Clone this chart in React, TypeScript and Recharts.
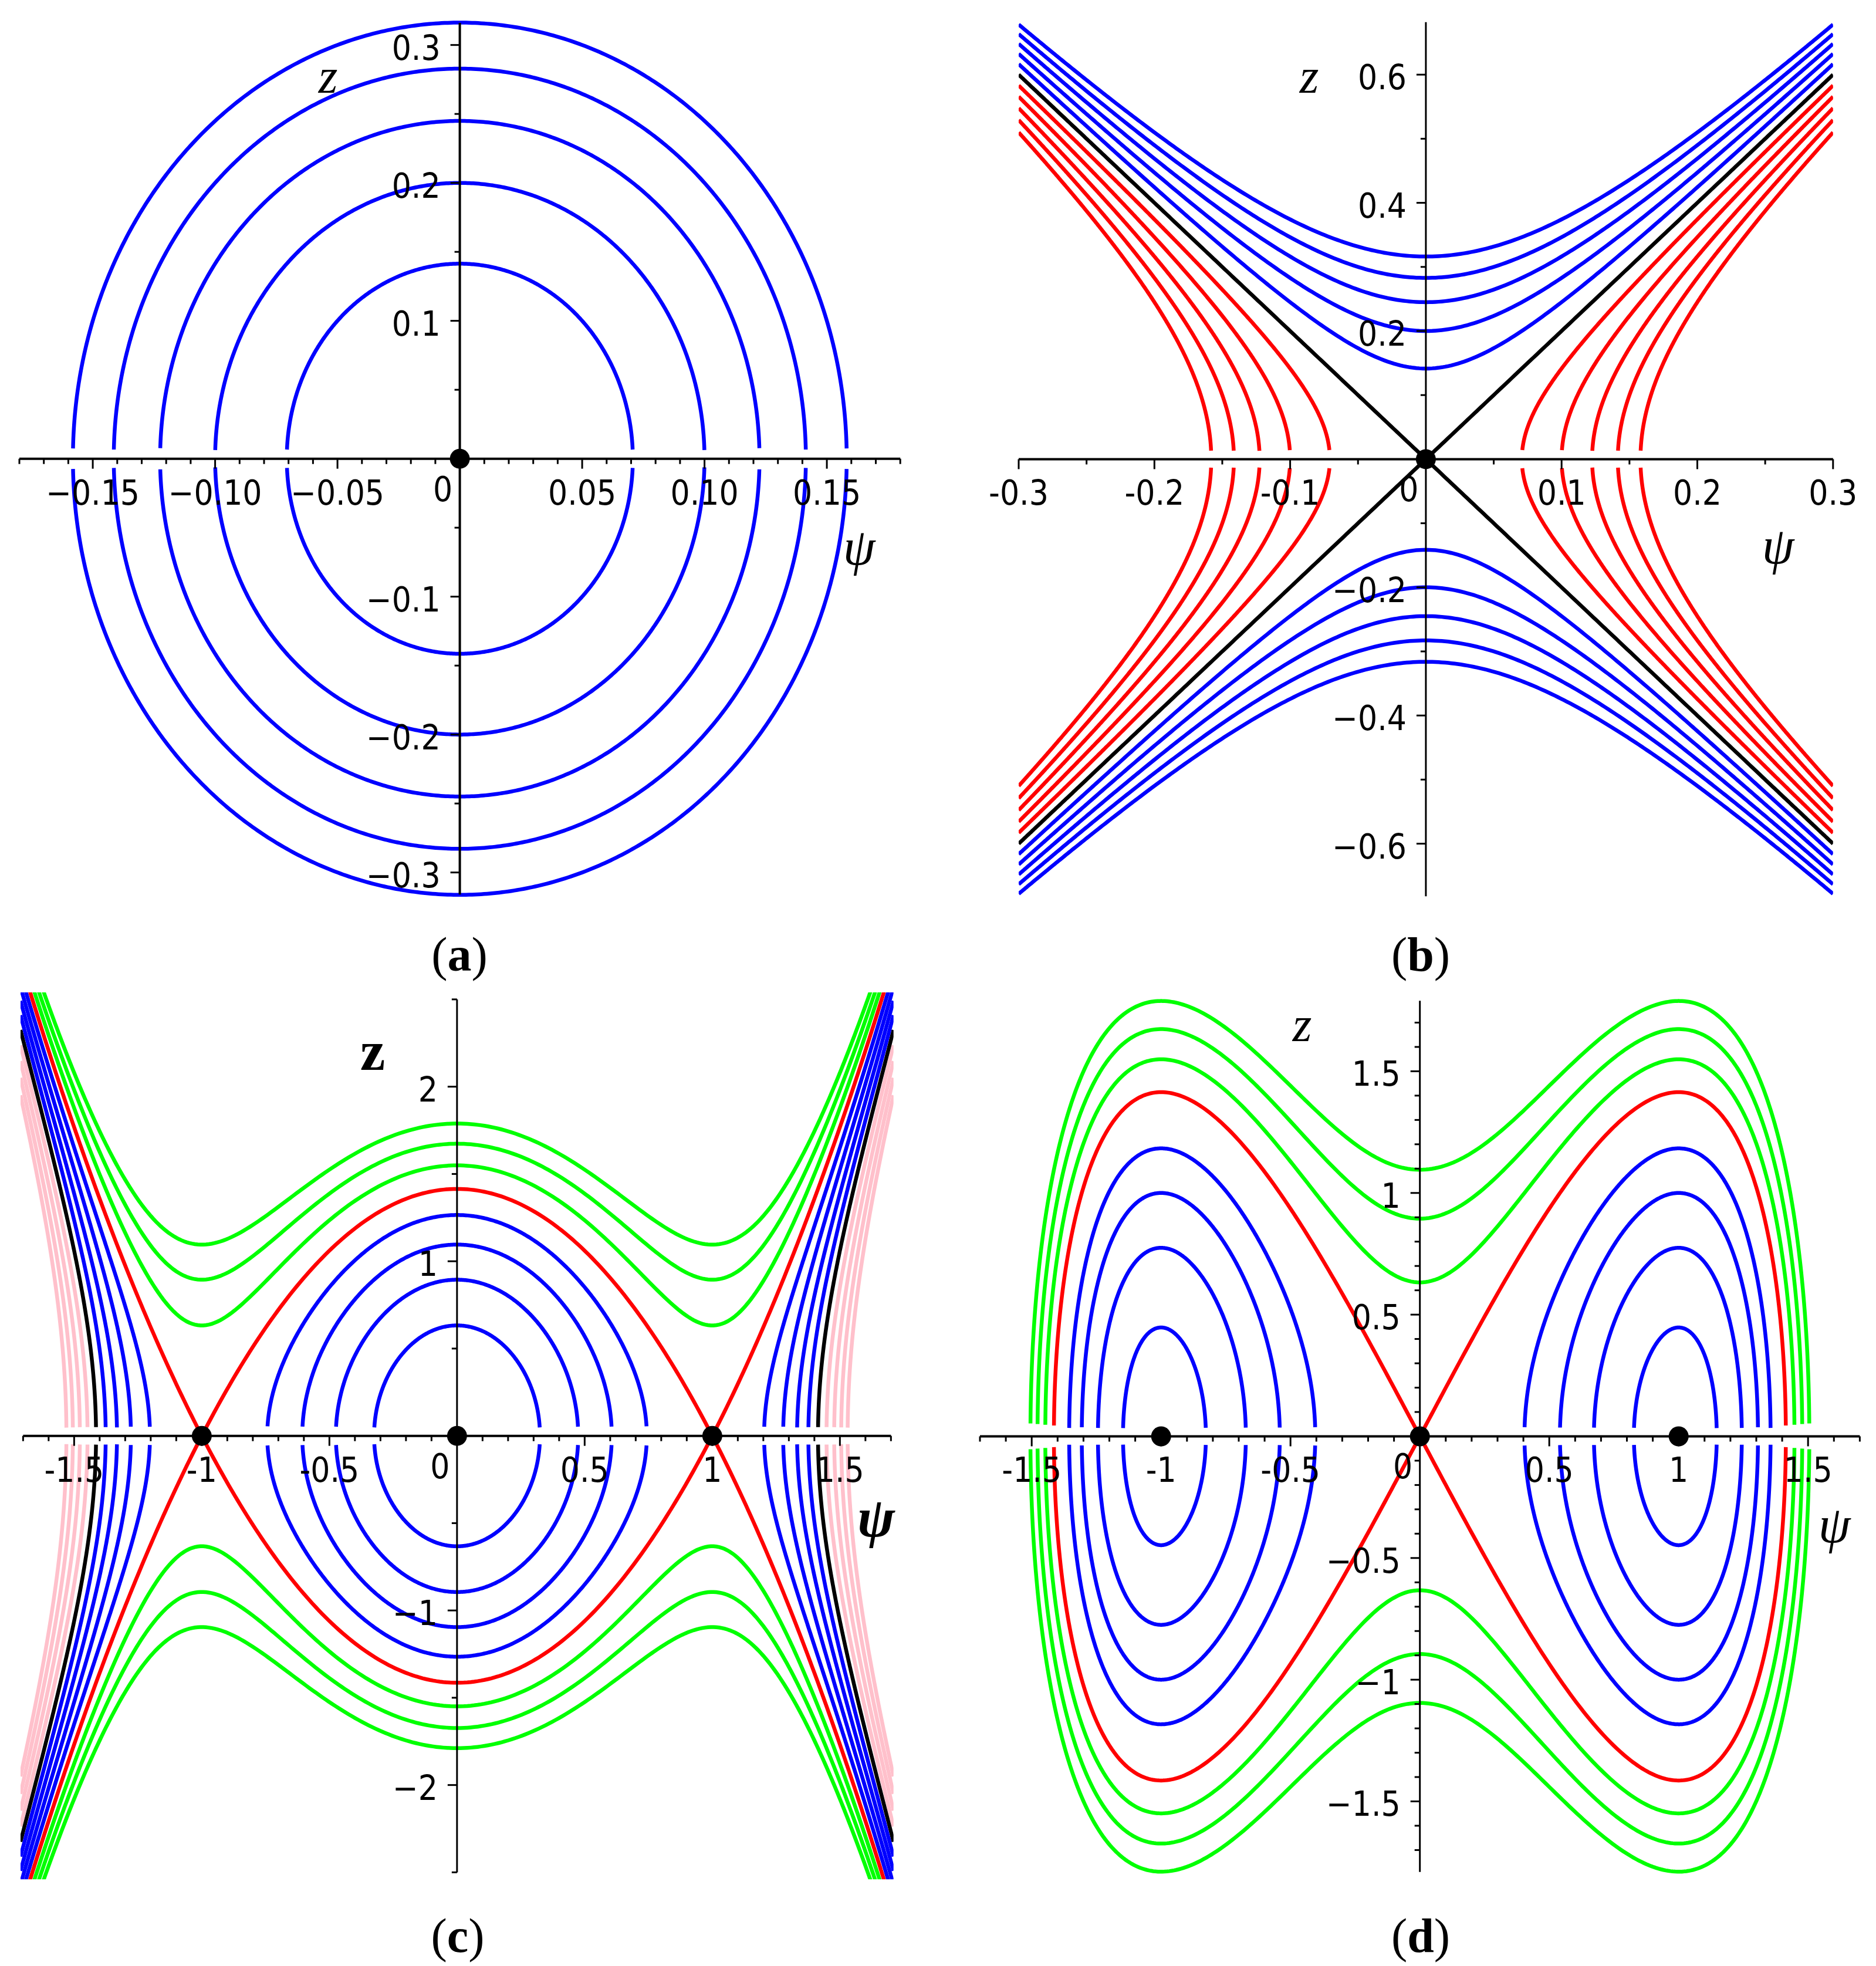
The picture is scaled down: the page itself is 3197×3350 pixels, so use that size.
import React, { useMemo } from "react";
import { LineChart, Line, XAxis, YAxis, ReferenceLine, ReferenceDot } from "recharts";

const BLUE = "#0000ff";
const RED = "#ff0000";
const GREEN = "#00ff00";
const BLACK = "#000000";
const PINK = "#ffc0cb";

const SANS = '"DejaVu Sans Condensed", "DejaVu Sans", sans-serif';
const SERIF = '"Liberation Serif", "DejaVu Serif", serif';

// Level values h of every curve family.
// (a) z²/4 + ψ² = h  (ψ-intercepts 0.071, 0.1, 0.122, 0.141, 0.158)
const A_BLUE = [0.005, 0.01, 0.015, 0.02, 0.025];
// (b) z²/4 − ψ² = h  (blue: z-intercepts 0.141…0.316, red: ψ-intercepts 0.071…0.158)
const B_RED = [-0.005, -0.01, -0.015, -0.02, -0.025];
const B_BLACK = [0];
const B_BLUE = [0.005, 0.01, 0.015, 0.02, 0.025];
// (c) z²/4 + ψ² − ψ⁴/2 = h
const C_PINK = [-0.4, -0.3, -0.2, -0.1];
const C_BLACK = [0];
const C_BLUE = [0.1, 0.2, 0.3, 0.4];
const C_RED = [0.5];
const C_GREEN = [0.6, 0.7, 0.8];
// (d) z²/4 − ψ² + ψ⁴/2 = h
const D_BLUE = [-0.45, -0.35, -0.25, -0.15];
const D_RED = [0];
const D_GREEN = [0.1, 0.2, 0.3];

// equilibria on the ψ axis
const A_EQ = [0];
const B_EQ = [0];
const C_EQ = [-1, 0, 1];
const D_EQ = [-1, 0, 1];

// tick labels
const A_PSI_TICKS = [-0.15, -0.1, -0.05, 0.05, 0.1, 0.15];
const A_PSI_LABELS = ["−0.15", "−0.10", "−0.05", "0.05", "0.10", "0.15"];
const A_Z_TICKS = [-0.3, -0.2, -0.1, 0.1, 0.2, 0.3];
const A_Z_LABELS = ["−0.3", "−0.2", "−0.1", "0.1", "0.2", "0.3"];

const B_PSI_TICKS = [-0.3, -0.2, -0.1, 0.1, 0.2, 0.3];
const B_PSI_LABELS = ["-0.3", "-0.2", "-0.1", "0.1", "0.2", "0.3"];
const B_Z_TICKS = [-0.6, -0.4, -0.2, 0.2, 0.4, 0.6];
const B_Z_LABELS = ["−0.6", "−0.4", "−0.2", "0.2", "0.4", "0.6"];

const C_PSI_TICKS = [-1.5, -1, -0.5, 0.5, 1, 1.5];
const C_PSI_LABELS = ["-1.5", "-1", "-0.5", "0.5", "1", "1.5"];
const C_Z_TICKS = [-2, -1, 1, 2];
const C_Z_LABELS = ["−2", "−1", "1", "2"];

const D_PSI_TICKS = [-1.5, -1, -0.5, 0.5, 1, 1.5];
const D_PSI_LABELS = ["-1.5", "-1", "-0.5", "0.5", "1", "1.5"];
const D_Z_TICKS = [-1.5, -1, -0.5, 0.5, 1, 1.5];
const D_Z_LABELS = ["−1.5", "−1", "−0.5", "0.5", "1", "1.5"];

type Pt = { psi: number; z: number };
type Family = { levels: number[]; color: string };
type PanelSpec = {
  id: string;
  ox: number;
  oy: number;
  sx: number;
  sy: number;
  psi: [number, number];
  z: [number, number];
  psiAxis: [number, number];
  zAxis: [number, number];
  vAxisWidth: number;
  pot: (p: number) => number;
  crit: number[];
  families: Family[];
  psiStep: number;
  psiMajor: number;
  zStep: number;
  zMajor: number;
  psiTicks: number[];
  psiLabels: string[];
  zTicks: number[];
  zLabels: string[];
  eq: number[];
};

const GAP_PX = 14;

// both branches z = ±2·sqrt(h − V(ψ)) of one level set, split where it is undefined
function levelCurves(pot: (p: number) => number, h: number, lo: number, hi: number, crit: number[], gap: number) {
  const f = (p: number) => h - pot(p);
  const tol = -1e-9;
  const N = 3000;
  const spans: [number, number][] = [];
  let prevP = lo;
  let prevIn = f(lo) >= tol;
  let start: number | null = prevIn ? lo : null;
  for (let i = 1; i <= N; i++) {
    const p = lo + ((hi - lo) * i) / N;
    const inside = f(p) >= tol;
    if (inside !== prevIn) {
      let a = prevP;
      let b = p;
      for (let k = 0; k < 60; k++) {
        const m = (a + b) / 2;
        if ((f(m) >= tol) === prevIn) a = m;
        else b = m;
      }
      if (inside) start = b;
      else {
        spans.push([start as number, a]);
        start = null;
      }
    }
    prevP = p;
    prevIn = inside;
  }
  if (start !== null) spans.push([start, hi]);

  const out: Pt[][] = [];
  for (const [a, b] of spans) {
    const ps: number[] = [];
    const n = 400;
    for (let k = 0; k <= n; k++) ps.push(a + ((b - a) * (1 - Math.cos((Math.PI * k) / n))) / 2);
    crit.forEach((c) => {
      if (c > a && c < b) ps.push(c);
    });
    ps.sort((u, v) => u - v);
    const upper = ps.map((p) => ({ psi: p, z: 2 * Math.sqrt(Math.max(0, f(p))) }));
    while (upper.length && upper[0].z < gap) upper.shift();
    while (upper.length && upper[upper.length - 1].z < gap) upper.pop();
    if (upper.length < 2) continue;
    out.push(upper, upper.map((q) => ({ psi: q.psi, z: -q.z })));
  }
  return out;
}

function tickValues(lo: number, hi: number, step: number) {
  const vals: { k: number; v: number }[] = [];
  const k0 = Math.ceil(lo / step - 1e-6);
  const k1 = Math.floor(hi / step + 1e-6);
  for (let k = k0; k <= k1; k++) if (k !== 0) vals.push({ k, v: k * step });
  return vals;
}

const PANELS: PanelSpec[] = [
  {
    id: "a",
    ox: 784, oy: 782, sx: 4170, sy: 2350,
    psi: [-0.18, 0.18], z: [-0.319, 0.319],
    psiAxis: [-0.18, 0.18], zAxis: [-0.316, 0.316],
    vAxisWidth: 4,
    pot: (p) => p * p,
    crit: [0],
    families: [{ levels: A_BLUE, color: BLUE }],
    psiStep: 0.01, psiMajor: 5, zStep: 0.05, zMajor: 2,
    psiTicks: A_PSI_TICKS, psiLabels: A_PSI_LABELS,
    zTicks: A_Z_TICKS, zLabels: A_Z_LABELS,
    eq: A_EQ,
  },
  {
    id: "b",
    ox: 2430, oy: 782, sx: 2313, sy: 1092,
    psi: [-0.3, 0.3], z: [-0.7, 0.7],
    psiAxis: [-0.3, 0.3], zAxis: [-0.682, 0.682],
    vAxisWidth: 3,
    pot: (p) => -p * p,
    crit: [0],
    families: [
      { levels: B_RED, color: RED },
      { levels: B_BLACK, color: BLACK },
      { levels: B_BLUE, color: BLUE },
    ],
    psiStep: 0.05, psiMajor: 2, zStep: 0.1, zMajor: 2,
    psiTicks: B_PSI_TICKS, psiLabels: B_PSI_LABELS,
    zTicks: B_Z_TICKS, zLabels: B_Z_LABELS,
    eq: B_EQ,
  },
  {
    id: "c",
    ox: 779, oy: 2447, sx: 435, sy: 297.5,
    psi: [-1.71, 1.71], z: [-2.54, 2.54],
    psiAxis: [-1.7, 1.7], zAxis: [-2.5, 2.5],
    vAxisWidth: 3,
    pot: (p) => p * p - (p * p * p * p) / 2,
    crit: [-1, 0, 1],
    families: [
      { levels: C_PINK, color: PINK },
      { levels: C_BLACK, color: BLACK },
      { levels: C_BLUE, color: BLUE },
      { levels: C_RED, color: RED },
      { levels: C_GREEN, color: GREEN },
    ],
    psiStep: 0.1, psiMajor: 5, zStep: 0.5, zMajor: 2,
    psiTicks: C_PSI_TICKS, psiLabels: C_PSI_LABELS,
    zTicks: C_Z_TICKS, zLabels: C_Z_LABELS,
    eq: C_EQ,
  },
  {
    id: "d",
    ox: 2420, oy: 2447, sx: 441, sy: 414.7,
    psi: [-1.7, 1.7], z: [-1.8, 1.8],
    psiAxis: [-1.7, 1.7], zAxis: [-1.79, 1.79],
    vAxisWidth: 3,
    pot: (p) => -p * p + (p * p * p * p) / 2,
    crit: [-1, 0, 1],
    families: [
      { levels: D_BLUE, color: BLUE },
      { levels: D_RED, color: RED },
      { levels: D_GREEN, color: GREEN },
    ],
    psiStep: 0.1, psiMajor: 5, zStep: 0.1, zMajor: 5,
    psiTicks: D_PSI_TICKS, psiLabels: D_PSI_LABELS,
    zTicks: D_Z_TICKS, zLabels: D_Z_LABELS,
    eq: D_EQ,
  },
];

const labelFor = (ticks: number[], labels: string[], v: number) => {
  const i = ticks.findIndex((t) => Math.abs(t - v) < 1e-9);
  return i >= 0 ? labels[i] : undefined;
};

function PhasePanel({ spec }: { spec: PanelSpec }) {
  const M = 120;
  const left = spec.ox + spec.psi[0] * spec.sx;
  const top = spec.oy - spec.z[1] * spec.sy;
  const w = (spec.psi[1] - spec.psi[0]) * spec.sx;
  const h = (spec.z[1] - spec.z[0]) * spec.sy;

  const curves = useMemo(() => {
    const list: { key: string; color: string; pts: Pt[] }[] = [];
    spec.families.forEach((fam, fi) =>
      fam.levels.forEach((lev, li) =>
        levelCurves(spec.pot, lev, spec.psi[0], spec.psi[1], spec.crit, GAP_PX / spec.sy).forEach((pts, bi) =>
          list.push({ key: `${spec.id}-${fi}-${li}-${bi}`, color: fam.color, pts })
        )
      )
    );
    return list;
  }, [spec]);

  const psiTicks = tickValues(spec.psiAxis[0], spec.psiAxis[1], spec.psiStep);
  const zTicks = tickValues(spec.zAxis[0], spec.zAxis[1], spec.zStep);

  return (
    <div style={{ position: "absolute", left: left - M, top: top - M }}>
      <LineChart width={w + 2 * M} height={h + 2 * M} margin={{ top: M, right: M, bottom: M, left: M }}>
        <XAxis type="number" dataKey="psi" domain={spec.psi} hide allowDataOverflow />
        <YAxis type="number" dataKey="z" domain={spec.z} hide allowDataOverflow />
        {curves.map((c) => (
          <Line
            key={c.key}
            data={c.pts}
            dataKey="z"
            type="linear"
            stroke={c.color}
            strokeWidth={6.5}
            dot={false}
            activeDot={false}
            isAnimationActive={false}
            legendType="none"
          />
        ))}
        <ReferenceLine
          segment={[{ x: spec.psiAxis[0], y: 0 }, { x: spec.psiAxis[1], y: 0 }]}
          stroke={BLACK}
          strokeWidth={4}
          ifOverflow="visible"
        />
        <ReferenceLine
          segment={[{ x: 0, y: spec.zAxis[0] }, { x: 0, y: spec.zAxis[1] }]}
          stroke={BLACK}
          strokeWidth={spec.vAxisWidth}
          ifOverflow="visible"
        />
        {psiTicks.map(({ k, v }) => {
          const major = k % spec.psiMajor === 0;
          const label = labelFor(spec.psiTicks, spec.psiLabels, v);
          return (
            <ReferenceDot
              key={`px${k}`}
              x={v}
              y={0}
              r={0}
              ifOverflow="visible"
              shape={(p: any) => (
                <g>
                  <line x1={p.cx} y1={p.cy} x2={p.cx} y2={p.cy + (major ? 17 : 9)} stroke={BLACK} strokeWidth={3} />
                  {label && (
                    <text x={p.cx} y={p.cy + 78} textAnchor="middle" fontSize={58} fontFamily={SANS} fill={BLACK}>
                      {label}
                    </text>
                  )}
                </g>
              )}
            />
          );
        })}
        {zTicks.map(({ k, v }) => {
          const major = k % spec.zMajor === 0;
          const label = labelFor(spec.zTicks, spec.zLabels, v);
          return (
            <ReferenceDot
              key={`zy${k}`}
              x={0}
              y={v}
              r={0}
              ifOverflow="visible"
              shape={(p: any) => (
                <g>
                  <line x1={p.cx - (major ? 16 : 9)} y1={p.cy} x2={p.cx} y2={p.cy} stroke={BLACK} strokeWidth={3} />
                  {label && (
                    <text x={p.cx - 33} y={p.cy + 25} textAnchor="end" fontSize={58} fontFamily={SANS} fill={BLACK}>
                      {label}
                    </text>
                  )}
                </g>
              )}
            />
          );
        })}
        <ReferenceDot
          x={0}
          y={0}
          r={0}
          ifOverflow="visible"
          shape={(p: any) => (
            <text x={p.cx - 29} y={p.cy + 72} textAnchor="middle" fontSize={58} fontFamily={SANS} fill={BLACK}>
              0
            </text>
          )}
        />
        {spec.eq.map((e) => (
          <ReferenceDot key={`eq${e}`} x={e} y={0} r={17} fill={BLACK} stroke="none" ifOverflow="visible" />
        ))}
      </LineChart>
    </div>
  );
}

const AXIS_NAMES = [
  { z: [559, 158], psi: [1464, 962], bold: false },
  { z: [2231, 158], psi: [3030, 960], bold: false },
  { z: [635, 1823], psi: [1493, 2618], bold: true },
  { z: [2219, 1774], psi: [3126, 2628], bold: false },
];
const CAPTIONS = [
  { t: "a", x: 783, y: 1654 },
  { t: "b", x: 2421, y: 1654 },
  { t: "c", x: 780, y: 3326 },
  { t: "d", x: 2421, y: 3326 },
];

export default function App() {
  return (
    <div style={{ position: "absolute", left: 0, top: 0, width: 3197, height: 3350, background: "#fff", overflow: "hidden" }}>
      {PANELS.map((s) => (
        <PhasePanel key={s.id} spec={s} />
      ))}
      <svg width={3197} height={3350} style={{ position: "absolute", left: 0, top: 0, pointerEvents: "none" }}>
        {AXIS_NAMES.map((a, i) => (
          <g key={i} fontFamily={SERIF} fontWeight={a.bold ? 700 : 400}>
            <text x={a.z[0]} y={a.z[1]} textAnchor="middle" fontSize={a.bold ? 96 : 84} fontStyle={a.bold ? "normal" : "italic"}>
              z
            </text>
            <text x={a.psi[0]} y={a.psi[1]} textAnchor="middle" fontSize={a.bold ? 96 : 88} fontStyle="italic">
              ψ
            </text>
          </g>
        ))}
        {CAPTIONS.map((c) => (
          <text key={c.t} x={c.x} y={c.y} textAnchor="middle" fontFamily={SERIF} fontSize={82}>
            (<tspan fontWeight={700}>{c.t}</tspan>)
          </text>
        ))}
      </svg>
    </div>
  );
}
